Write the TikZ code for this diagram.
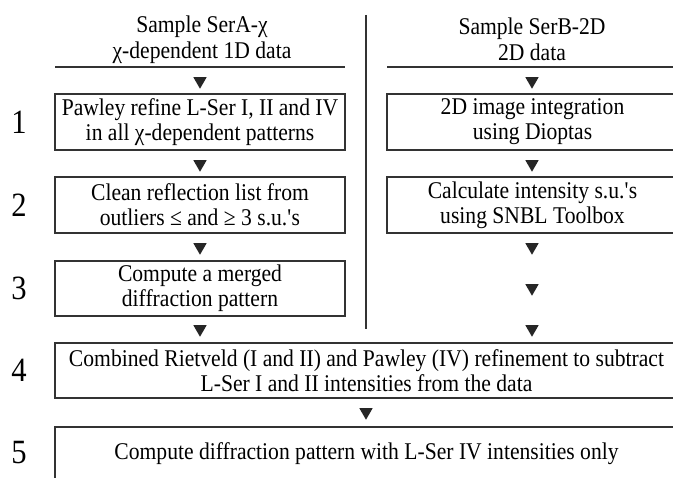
\documentclass[tikz,border=0pt]{standalone}
\usepackage{fontspec}
\setmainfont{Liberation Serif}[FakeStretch=0.9]
\usetikzlibrary{shapes.geometric}
\begin{document}
\begin{tikzpicture}[x=1pt,y=-1pt,
  line/.style={draw=black!80, line width=1.1pt},
  box/.style={line, rectangle, align=center, inner sep=0pt,
    font=\fontsize{24}{25}\selectfont},
  hdr/.style={align=center, inner sep=0pt, font=\fontsize{24}{26}\selectfont},
  num/.style={inner sep=0pt, font=\fontsize{34}{36}\selectfont},
  tri/.style={regular polygon, regular polygon sides=3, shape border rotate=180,
    fill=black!85, draw=none, inner sep=0pt, minimum size=15.5pt}
]
\useasboundingbox (0,0) rectangle (673,478);
\clip (0,0) rectangle (673,478);

% headers
\node[hdr] (hA) at (202,39.5) {Sample SerA-χ\\χ-dependent 1D data};
\node[hdr] (hB) at (532,39.5) {Sample SerB-2D\\2D data};
\coordinate (rA1) at (55,67);
\coordinate (rA2) at (345,67);
\coordinate (rB1) at (387,67);
\coordinate (rB2) at (690,67);
\draw[line] (rA1) -- (rA2);
\draw[line] (rB1) -- (rB2);

% divider
\coordinate (d1) at (366,15);
\coordinate (d2) at (366,329);
\draw[line] (d1) -- (d2);

% left column
\node[tri] (tA0) at (200,81) {};
\node[box, minimum width=290pt, minimum height=56pt] (a1) at (200,122) {Pawley refine L-Ser I, II and IV\\in all χ-dependent patterns};
\node[tri] (tA1) at (200,164) {};
\node[box, minimum width=290pt, minimum height=56pt] (a2) at (200,205) {Clean reflection list from\\outliers ≤ and ≥ 3 s.u.\textquotesingle s};
\node[tri] (tA2) at (200,247) {};
\node[box, minimum width=290pt, minimum height=55pt] (a3) at (200,288.5) {Compute a merged\\diffraction pattern};
\node[tri] (tA3) at (200,329) {};

% right column
\node[tri] (tB0) at (532,81) {};
\node[box, minimum width=291pt, minimum height=56pt] (b1) at (532.5,122) {2D image integration\\using Dioptas};
\node[tri] (tB1) at (532,164) {};
\node[box, minimum width=291pt, minimum height=56pt] (b2) at (532.5,205) {Calculate intensity s.u.\textquotesingle s\\using SNBL Toolbox};
\node[tri] (tB2) at (532,247) {};
\node[tri] (tB3) at (532,288) {};
\node[tri] (tB4) at (532,329) {};

% bottom
\node[box, minimum width=623pt, minimum height=55pt] (c4) at (366.5,370.5) {Combined Rietveld (I and II) and Pawley (IV) refinement to subtract\\L-Ser I and II intensities from the data};
\node[tri] (tC) at (366,412) {};
\node[box, minimum width=623pt, minimum height=54pt] (c5) at (366.5,454) {Compute diffraction pattern with L-Ser IV intensities only};

% numbers
\node[num] (n1) at (19,122) {1};
\node[num] (n2) at (19,205) {2};
\node[num] (n3) at (19,288) {3};
\node[num] (n4) at (19,370) {4};
\node[num] (n5) at (19,453) {5};
\end{tikzpicture}
\end{document}
